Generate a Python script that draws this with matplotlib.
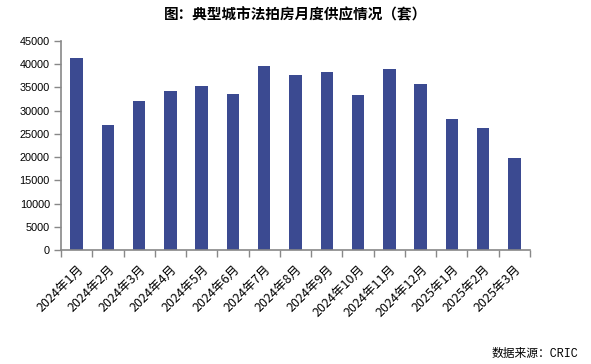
import matplotlib
matplotlib.use("Agg")
import matplotlib.pyplot as plt
import numpy as np

plt.rcParams['font.family'] = ['Noto Sans CJK SC', 'DejaVu Sans']

categories = ["2024年1月", "2024年2月", "2024年3月", "2024年4月", "2024年5月", "2024年6月",
              "2024年7月", "2024年8月", "2024年9月", "2024年10月", "2024年11月", "2024年12月",
              "2025年1月", "2025年2月", "2025年3月"]
values = [41300, 26900, 32100, 34200, 35300, 33600, 39600, 37700, 38300, 33400, 39000, 35700,
          28200, 26300, 19800]
yticks = [0, 5000, 10000, 15000, 20000, 25000, 30000, 35000, 40000, 45000]

fig = plt.figure(figsize=(5.91, 3.64), dpi=100)
ax = fig.add_axes([0.1032, 0.3132, 0.7936, 0.5742])

x = np.arange(len(categories))
ax.bar(x, values, width=0.4, color='#3B4A91')

ax.set_xlim(-0.5, len(categories) - 0.5)
ax.set_ylim(0, 45000)
ax.set_yticks(yticks)
ax.set_yticklabels([str(v) for v in yticks], fontsize=7.8, family=['Liberation Sans', 'DejaVu Sans'])

ax.set_xticks(x)
ax.set_xticklabels(categories, rotation=45, ha='right', rotation_mode='anchor', fontsize=9)
ax.set_xticks(np.arange(len(categories) + 1) - 0.5, minor=True)
ax.tick_params(axis='x', which='major', length=0, pad=9)
ax.tick_params(axis='x', which='minor', length=5, color='#888888', width=1)
ax.tick_params(axis='y', length=5, color='#888888', width=1, pad=3)

for s in ['top', 'right']:
    ax.spines[s].set_visible(False)
for s in ['left', 'bottom']:
    ax.spines[s].set_color('#888888')
    ax.spines[s].set_linewidth(1.2)

fig.text(0.5, 0.9615, "图：典型城市法拍房月度供应情况（套）", ha='center', va='center',
         fontsize=10.5, fontweight='bold')
fig.text(0.978, 0.028, "数据来源：CRIC", ha='right', va='center', fontsize=8.5,
         family=['Liberation Mono', 'Noto Sans CJK SC'])

fig.savefig("out.png", dpi=100)
